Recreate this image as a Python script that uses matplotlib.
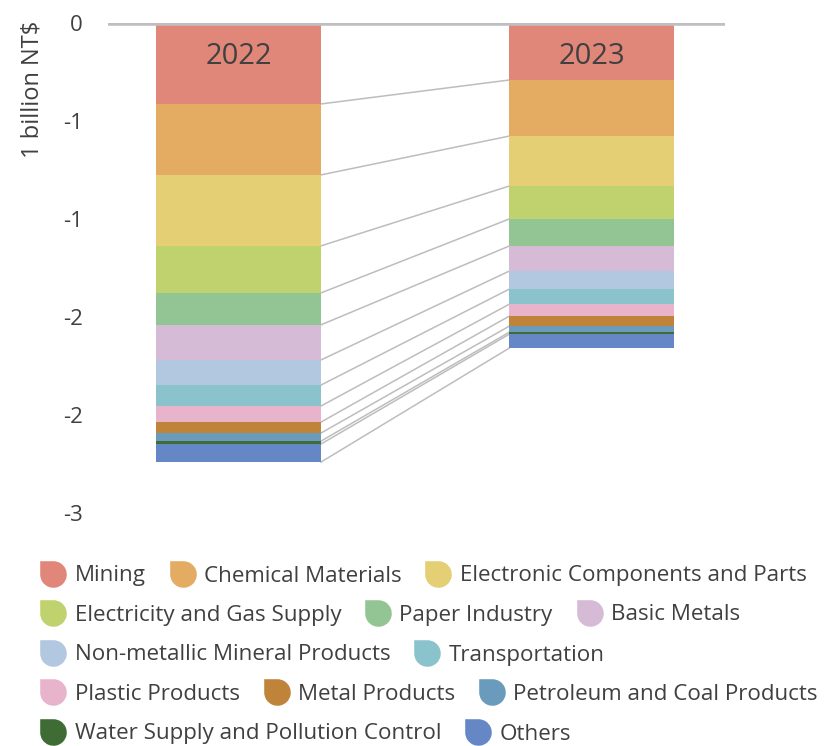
import numpy as np
import matplotlib
matplotlib.use("Agg")
import matplotlib.pyplot as plt
from matplotlib.path import Path
from matplotlib.lines import Line2D
from matplotlib.ticker import FixedLocator, FixedFormatter

plt.rcParams['font.family'] = ['Open Sans', 'DejaVu Sans']

years = ["2022", "2023"]
categories = ["Mining", "Chemical Materials", "Electronic Components and Parts",
              "Electricity and Gas Supply", "Paper Industry", "Basic Metals",
              "Non-metallic Mineral Products", "Transportation", "Plastic Products",
              "Metal Products", "Petroleum and Coal Products",
              "Water Supply and Pollution Control", "Others"]
values_2022 = [-0.413, -0.362, -0.362, -0.240, -0.163, -0.179, -0.128,
               -0.107, -0.082, -0.056, -0.041, -0.015, -0.092]
values_2023 = [-0.291, -0.286, -0.255, -0.168, -0.138, -0.128, -0.092,
               -0.077, -0.061, -0.051, -0.031, -0.010, -0.071]
colors = ["#E0877A", "#E3AC62", "#E4CF74", "#C0D26E", "#93C493", "#D5BBD5",
          "#B2C7E0", "#8BC3CD", "#E8B4CB", "#C0833A", "#6A9BBD", "#3F6B34", "#6587C5"]
tick_values = [0, -0.5, -1.0, -1.5, -2.0, -2.5]
tick_labels = ["0", "-1", "-1", "-2", "-2", "-3"]
legend_rows = [[0, 1, 2], [3, 4, 5], [6, 7], [8, 9, 10], [11, 12]]

W, H = 827, 746
fig = plt.figure(figsize=(W / 100, H / 100), dpi=100)
ax = fig.add_axes([108 / W, 1 - 513 / H, 617 / W, 490 / H])

series = [values_2022, values_2023]
width = 0.467
x = np.arange(len(years))
bottoms = np.zeros(len(years))
cums = []
for i, cat in enumerate(categories):
    vals = np.array([s[i] for s in series])
    ax.bar(x, vals, width, bottom=bottoms, color=colors[i], edgecolor='none', zorder=2)
    bottoms = bottoms + vals
    cums.append(bottoms.copy())

for c in cums:
    ax.plot([x[0] + width / 2, x[1] - width / 2], [c[0], c[1]],
            color="#bdbdbd", lw=1.1, zorder=1)

ax.axhline(0, color="#bfbfbf", lw=4, zorder=3)

for xi, yr in zip(x, years):
    ax.text(xi, -0.17, yr, ha='center', va='center', fontsize=21,
            color="#404040", fontweight='medium', zorder=4)

ax.set_xlim(-0.37, 1.378)
ax.set_ylim(-2.5, 0)
ax.yaxis.set_major_locator(FixedLocator(tick_values))
ax.yaxis.set_major_formatter(FixedFormatter(tick_labels))
ax.set_xticks([])
ax.tick_params(axis='y', length=0, pad=18, labelsize=16, labelcolor="#404040")
for s in ax.spines.values():
    s.set_visible(False)
ax.patch.set_alpha(0)

fig.text(33 / W, 1 - 89 / H, "1 billion NT$", rotation=90, ha='center', va='center',
         fontsize=17, color="#404040")

# leaf-shaped legend marker
arc = Path.arc(-180, 90)
verts = list(arc.vertices) + [(-1, 1), (-1, 0)]
codes = list(arc.codes) + [Path.LINETO, Path.CLOSEPOLY]
leaf = Path(verts, codes)

row_y = [576, 615, 655, 694, 734]
fs = 16.1
for row, yy in zip(legend_rows, row_y):
    handles = [Line2D([], [], marker=leaf, linestyle='none', markersize=19.5,
                      markerfacecolor=colors[i], markeredgecolor='none') for i in row]
    labels = [categories[i] for i in row]
    fig.legend(handles, labels, loc='center left',
               bbox_to_anchor=(40 / W, 1 - yy / H), ncol=len(row),
               frameon=False, fontsize=fs, handlelength=1.2,
               handletextpad=0.35, columnspacing=1.05, borderpad=0,
               borderaxespad=0, labelcolor="#404040")

fig.savefig("out.png", dpi=100)
